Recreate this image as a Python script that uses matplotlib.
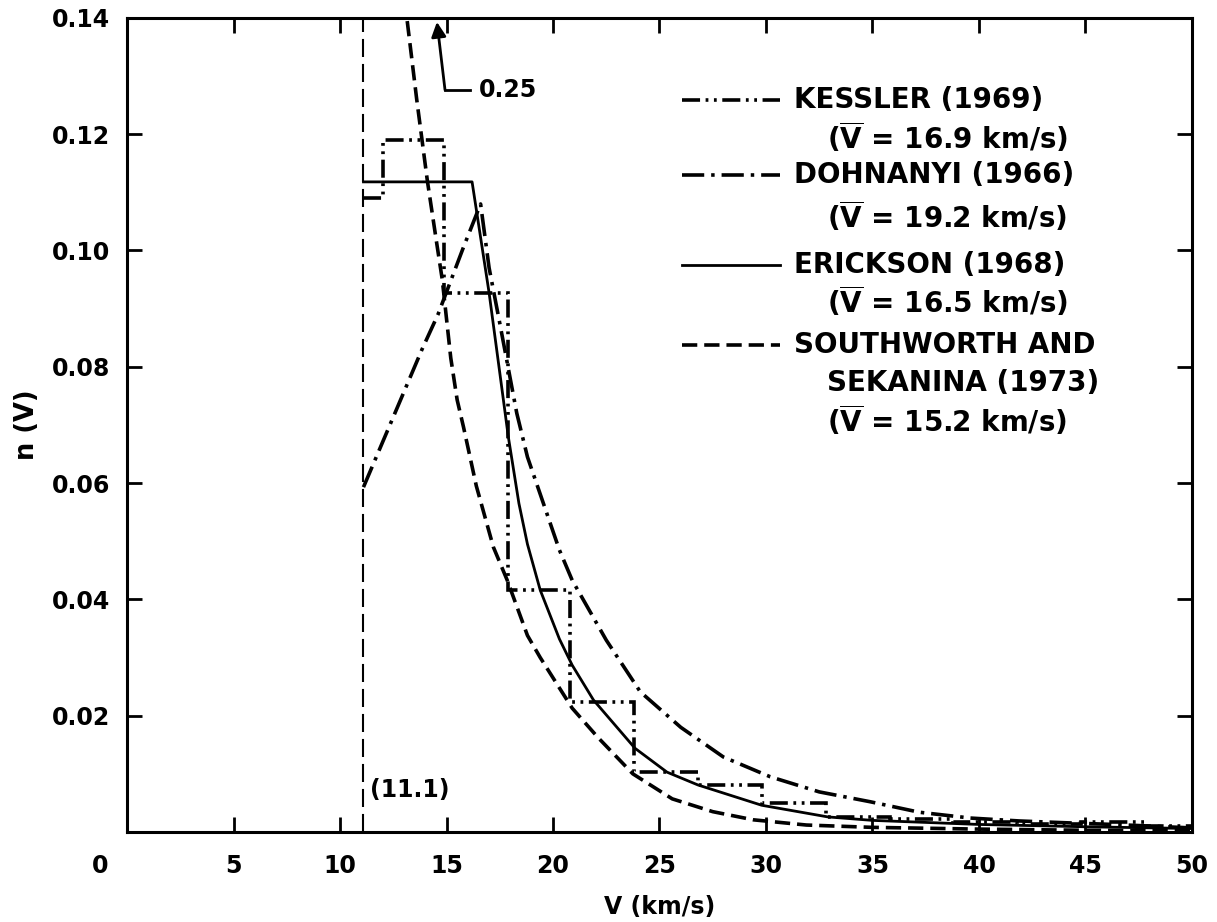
import matplotlib
matplotlib.use('Agg')
import matplotlib.pyplot as plt
from matplotlib.lines import Line2D
from matplotlib.transforms import ScaledTranslation

plt.rcParams['font.family'] = ['DejaVu Sans']
plt.rcParams['font.weight'] = 'bold'
plt.rcParams['mathtext.fontset'] = 'custom'
plt.rcParams['mathtext.rm'] = 'DejaVu Sans:bold'
plt.rcParams['mathtext.bf'] = 'DejaVu Sans:bold'
plt.rcParams['mathtext.it'] = 'DejaVu Sans:bold'
plt.rcParams['lines.scale_dashes'] = False

# ---------------- data ----------------
v_min = 11.1          # escape velocity cut-off
sw_peak = 0.25        # Southworth & Sekanina value at 11.1 km/s (off scale)

kessler_edges = [11.1, 12.0, 14.9, 17.9, 20.8, 23.8, 26.8, 29.8, 32.8, 35.8,
                 38.8, 41.8, 44.8, 47.8, 50.0]
kessler_n = [0.109, 0.119, 0.0927, 0.0416, 0.0224, 0.0103, 0.0081, 0.0050,
             0.0026, 0.0022, 0.0018, 0.0014, 0.0017, 0.0010]

dohnanyi_v = [11.1, 13.85, 14.6, 15.8, 16.6, 17.0, 17.5, 18.3, 18.8, 20.3,
              20.9, 22.5, 24.1, 26.0, 28.0, 30.2, 32.5, 34.9, 37.2, 39.6,
              41.9, 44.0, 46.3, 48.2, 50.0]
dohnanyi_n = [0.0593, 0.083, 0.089, 0.1006, 0.108, 0.097, 0.0875, 0.072,
              0.0645, 0.0485, 0.0433, 0.033, 0.0241, 0.018, 0.0129, 0.0095,
              0.0069, 0.0052, 0.0034, 0.0024, 0.0019, 0.0016, 0.0013, 0.0010,
              0.0007]

erickson_v = [11.1, 16.2, 17.0, 17.5, 17.9, 18.4, 18.8, 19.4, 20.3, 20.9,
              21.9, 23.85, 25.35, 26.8, 29.8, 32.9, 35.0, 40.0, 45.0, 50.0]
erickson_n = [0.1118, 0.1118, 0.0927, 0.079, 0.068, 0.0565, 0.0495, 0.0416,
              0.0332, 0.0287, 0.0227, 0.0144, 0.0103, 0.0081, 0.0046, 0.0026,
              0.0020, 0.0013, 0.0009, 0.0006]

sw_v = [11.1, 11.5, 12.0, 12.5, 13.15, 13.6, 14.1, 14.55, 14.8, 15.2, 15.5,
        15.8, 16.4, 17.2, 17.85, 18.8, 19.4, 20.9, 22.1, 23.75, 25.6, 27.5,
        29.4, 31.9, 35.0, 40.0, 45.0, 50.0]
sw_n = [0.25, 0.215, 0.185, 0.16, 0.1396, 0.126, 0.112, 0.101, 0.095, 0.0815,
        0.0743, 0.0696, 0.0595, 0.049, 0.0433, 0.0338, 0.030, 0.0213, 0.0163,
        0.0100, 0.0057, 0.0035, 0.0021, 0.0012, 0.0008, 0.0005, 0.0003, 0.0002]

x_ticks = [0, 5, 10, 15, 20, 25, 30, 35, 40, 45, 50]
y_ticks = [0.02, 0.04, 0.06, 0.08, 0.10, 0.12, 0.14]
y_ticklabels = ['0.02', '0.04', '0.06', '0.08', '0.10', '0.12', '0.14']

legend_names = ['KESSLER (1969)', 'DOHNANYI (1966)', 'ERICKSON (1968)',
                'SOUTHWORTH AND\nSEKANINA (1973)']
legend_vbar = ['16.9', '19.2', '16.5', '15.2']

# ---------------- styles ----------------
K_STYLE = dict(color='black', lw=2.6, linestyle=(0, (13, 4, 2, 4, 2, 4)))
D_STYLE = dict(color='black', lw=2.6, linestyle=(0, (16, 5, 2.5, 5)))
E_STYLE = dict(color='black', lw=2.0, linestyle='-')
S_STYLE = dict(color='black', lw=2.6, linestyle=(0, (11, 5)))

fig = plt.figure(figsize=(12.17, 9.22), dpi=100)
ax = fig.add_axes([0.1044, 0.0976, 0.875, 0.883])

# curves
ax.stairs(kessler_n, kessler_edges, baseline=None, fill=False,
          edgecolor='black', linewidth=K_STYLE['lw'],
          linestyle=K_STYLE['linestyle'])
ax.plot(dohnanyi_v, dohnanyi_n, **D_STYLE)
ax.plot(erickson_v, erickson_n, **E_STYLE)
ax.plot(sw_v, sw_n, **S_STYLE)
ax.plot([v_min, v_min], [0, sw_peak], color='black', lw=1.5,
        linestyle=(0, (13, 5)))

ax.set_xlim(0, 50)
ax.set_ylim(0, 0.14)
ax.set_xticks(x_ticks)
ax.set_xticklabels([str(t) for t in x_ticks])
ax.set_yticks(y_ticks)
ax.set_yticklabels(y_ticklabels)
ax.tick_params(direction='in', length=11, width=2, top=True, right=True,
               labelsize=17, pad=12)
ax.tick_params(axis='x', pad=16)
for s in ax.spines.values():
    s.set_linewidth(2.2)

# shift the "0" x label to the left like in the reference
lab0 = ax.get_xticklabels()[0]
lab0.set_transform(lab0.get_transform() +
                   ScaledTranslation(-0.27, 0, fig.dpi_scale_trans))

ax.set_xlabel('V (km/s)', fontsize=17, fontweight='bold', labelpad=12)
ax.set_ylabel('n (V)', fontsize=18.5, fontweight='bold', labelpad=9)

# annotations
ax.text(11.4, 0.0072, '(11.1)', fontsize=17, fontweight='bold',
        ha='left', va='center')
ax.plot([14.93, 16.1], [0.1276, 0.1276], color='black', lw=2)
ax.annotate('', xy=(14.55, 0.1393), xytext=(14.93, 0.1276),
            arrowprops=dict(arrowstyle='-|>', lw=2, color='black',
                            mutation_scale=22, shrinkA=0, shrinkB=0))
ax.text(16.5, 0.1276, '0.25', fontsize=17, fontweight='bold',
        ha='left', va='center')

# legend (manual layout)
styles = [K_STYLE, D_STYLE, E_STYLE, S_STYLE]
y_name = [0.899, 0.807, 0.697, 0.598]
y_vbar = [0.853, 0.756, 0.651, 0.506]
x0, x1, xt, xv = 0.521, 0.613, 0.626, 0.657
for name, vb, st, yn, yv in zip(legend_names, legend_vbar, styles, y_name, y_vbar):
    ax.add_line(Line2D([x0, x1], [yn, yn], transform=ax.transAxes, **st))
    lines = name.split('\n')
    ax.text(xt, yn, lines[0], transform=ax.transAxes, fontsize=20,
            fontweight='bold', ha='left', va='center')
    if len(lines) > 1:
        ax.text(xv, (yn + yv) / 2, lines[1], transform=ax.transAxes,
                fontsize=20, fontweight='bold', ha='left', va='center')
    ax.text(xv, yv, r'($\overline{\mathrm{V}}$ = ' + vb + ' km/s)',
            transform=ax.transAxes, fontsize=20, fontweight='bold',
            ha='left', va='center')

fig.savefig('out.png', dpi=100)
